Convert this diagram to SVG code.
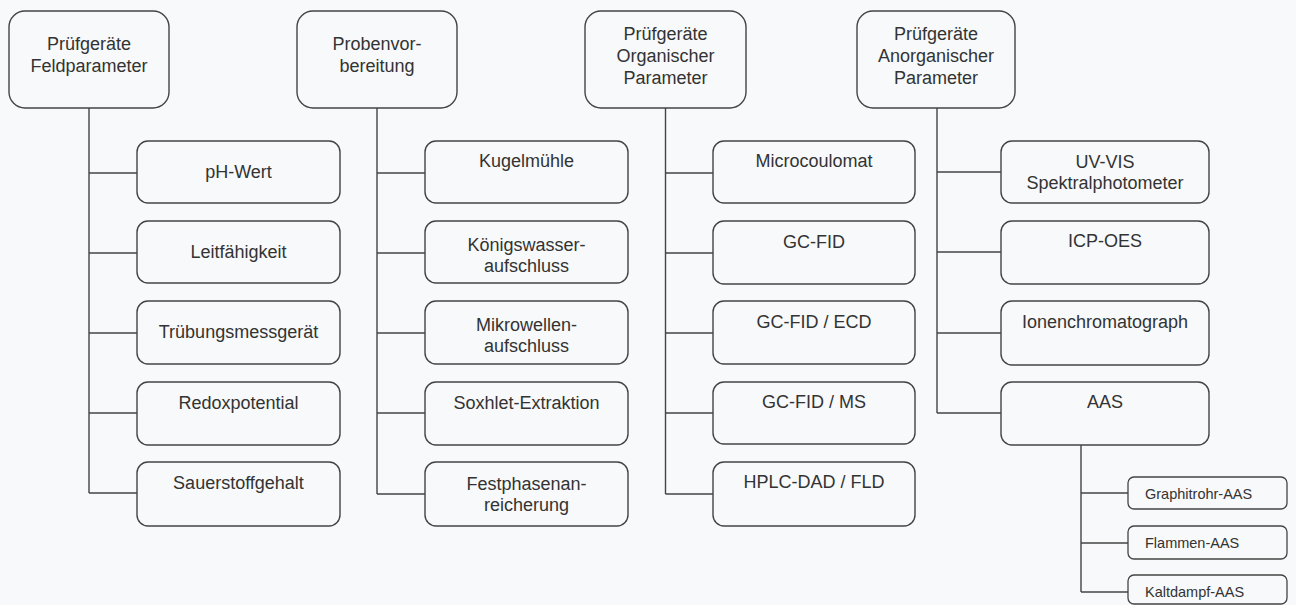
<svg xmlns="http://www.w3.org/2000/svg" width="1296" height="605" viewBox="0 0 1296 605">
<style>
.bg{fill:#f7f9fa}
.hdr{fill:none;stroke:#444;stroke-width:1.4}
.box{fill:none;stroke:#444;stroke-width:1.4}
.sub{fill:none;stroke:#444;stroke-width:1.3}
.con{fill:none;stroke:#444;stroke-width:1.4}
text{font-family:"Liberation Sans",Arial,sans-serif;font-size:18px;fill:#333;text-anchor:middle}
text.s{font-size:14.5px;text-anchor:start}
</style>
<rect class="bg" x="0" y="0" width="1296" height="605"/>
<g id="connectors">
<path class="con" d="M89 108V493M89 173H137M89 253H137M89 333H137M89 413H137M89 493H137"/>
<path class="con" d="M377 108V494M377 173H425M377 253H425M377 333H425M377 413H425M377 494H425"/>
<path class="con" d="M665.5 108V494M665.5 173H713M665.5 253H713M665.5 333H713M665.5 413H713M665.5 494H713"/>
<path class="con" d="M937 108V413M937 172H1001M937 252H1001M937 333H1001M937 413H1001"/>
<path class="con" d="M1081 445V592M1081 493H1128M1081 543H1128M1081 592H1128"/>
</g>
<g id="h1"><rect class="hdr" x="9" y="11" width="160" height="97" rx="16"/><text x="89" y="50">Prüfgeräte</text><text x="89" y="72">Feldparameter</text></g>
<g id="h2"><rect class="hdr" x="297" y="11" width="160" height="97" rx="16"/><text x="377" y="50">Probenvor-</text><text x="377" y="72">bereitung</text></g>
<g id="h3"><rect class="hdr" x="585" y="11" width="161" height="97" rx="16"/><text x="665.5" y="40">Prüfgeräte</text><text x="665.5" y="62">Organischer</text><text x="665.5" y="84">Parameter</text></g>
<g id="h4"><rect class="hdr" x="857" y="11" width="158" height="97" rx="16"/><text x="936" y="40">Prüfgeräte</text><text x="936" y="62">Anorganischer</text><text x="936" y="84">Parameter</text></g>

<g id="c1r1"><rect class="box" x="137" y="141" width="203" height="62" rx="11"/><text x="238.5" y="178">pH-Wert</text></g>
<g id="c1r2"><rect class="box" x="137" y="221" width="203" height="62" rx="11"/><text x="238.5" y="258">Leitfähigkeit</text></g>
<g id="c1r3"><rect class="box" x="137" y="301" width="203" height="63" rx="11"/><text x="238.5" y="338">Trübungsmessgerät</text></g>
<g id="c1r4"><rect class="box" x="137" y="382" width="203" height="63" rx="11"/><text x="238.5" y="409">Redoxpotential</text></g>
<g id="c1r5"><rect class="box" x="137" y="462" width="203" height="64" rx="11"/><text x="238.5" y="489">Sauerstoffgehalt</text></g>

<g id="c2r1"><rect class="box" x="425" y="141" width="203" height="62" rx="11"/><text x="526.5" y="167">Kugelmühle</text></g>
<g id="c2r2"><rect class="box" x="425" y="221" width="203" height="62" rx="11"/><text x="526.5" y="251">Königswasser-</text><text x="526.5" y="272">aufschluss</text></g>
<g id="c2r3"><rect class="box" x="425" y="301" width="203" height="63" rx="11"/><text x="526.5" y="331">Mikrowellen-</text><text x="526.5" y="352">aufschluss</text></g>
<g id="c2r4"><rect class="box" x="425" y="382" width="203" height="63" rx="11"/><text x="526.5" y="409">Soxhlet-Extraktion</text></g>
<g id="c2r5"><rect class="box" x="425" y="462" width="203" height="64" rx="11"/><text x="526.5" y="490">Festphasenan-</text><text x="526.5" y="511">reicherung</text></g>

<g id="c3r1"><rect class="box" x="713" y="141" width="202" height="62" rx="11"/><text x="814" y="167">Microcoulomat</text></g>
<g id="c3r2"><rect class="box" x="713" y="221" width="202" height="63" rx="11"/><text x="814" y="248">GC-FID</text></g>
<g id="c3r3"><rect class="box" x="713" y="301" width="202" height="63" rx="11"/><text x="814" y="328">GC-FID / ECD</text></g>
<g id="c3r4"><rect class="box" x="713" y="382" width="202" height="62" rx="11"/><text x="814" y="408">GC-FID / MS</text></g>
<g id="c3r5"><rect class="box" x="713" y="462" width="202" height="64" rx="11"/><text x="814" y="488">HPLC-DAD / FLD</text></g>

<g id="c4r1"><rect class="box" x="1001" y="141" width="208" height="62" rx="11"/><text x="1105" y="168">UV-VIS</text><text x="1105" y="189">Spektralphotometer</text></g>
<g id="c4r2"><rect class="box" x="1001" y="221" width="208" height="63" rx="11"/><text x="1105" y="247">ICP-OES</text></g>
<g id="c4r3"><rect class="box" x="1001" y="301" width="208" height="64" rx="11"/><text x="1105" y="328">Ionenchromatograph</text></g>
<g id="c4r4"><rect class="box" x="1001" y="382" width="208" height="63" rx="11"/><text x="1105" y="408">AAS</text></g>

<g id="s1"><rect class="sub" x="1128" y="477" width="159" height="32" rx="6"/><text class="s" x="1145" y="499">Graphitrohr-AAS</text></g>
<g id="s2"><rect class="sub" x="1128" y="526" width="159" height="33" rx="6"/><text class="s" x="1145" y="548">Flammen-AAS</text></g>
<g id="s3"><rect class="sub" x="1128" y="575" width="159" height="29" rx="6"/><text class="s" x="1145" y="597">Kaltdampf-AAS</text></g>
</svg>
